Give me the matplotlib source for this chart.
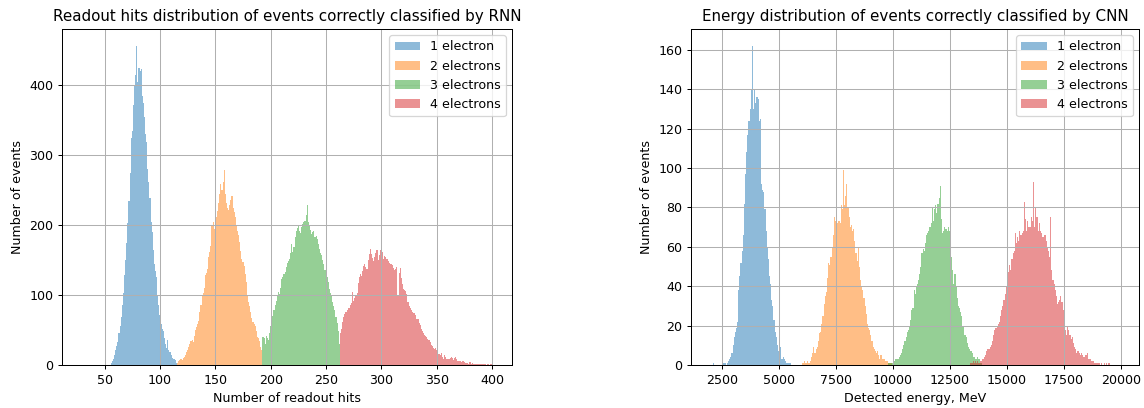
import matplotlib
matplotlib.use("Agg")
import matplotlib.pyplot as plt
import numpy as np

labels = ["1 electron", "2 electrons", "3 electrons", "4 electrons"]

# RNN panel: counts per readout-hit bin (width 1 hit), first bin centre below
rnn_first = [56, 116, 193, 263]
rnn_1e = [3, 5, 8, 14, 22, 27, 33, 45, 55, 68, 85, 103, 128, 150, 175,
          203, 235, 275, 325, 335, 372, 398, 415, 456, 405, 425, 420, 423, 385, 375,
          355, 330, 318, 280, 262, 238, 205, 190, 165, 145, 135, 125, 100, 85, 72,
          58, 52, 48, 38, 30, 24, 35, 22, 18, 14, 10, 9, 8, 7, 3]
rnn_2e = [3, 6, 7, 8, 7, 10, 12, 14, 18, 22, 26, 30, 34, 36, 33,
          42, 50, 54, 58, 63, 75, 86, 100, 103, 110, 128, 132, 137, 155, 162,
          170, 200, 205, 195, 198, 212, 220, 232, 245, 258, 250, 262, 278, 245, 232,
          225, 222, 228, 236, 242, 225, 218, 212, 200, 192, 186, 176, 163, 152, 147,
          142, 130, 118, 100, 90, 84, 76, 67, 62, 59, 55, 48, 40, 38, 34, 26, 22]
rnn_3e = [40, 38, 30, 42, 38, 36, 45, 55, 62, 70, 78, 85, 92, 100, 104,
          102, 110, 123, 126, 130, 133, 140, 146, 149, 152, 160, 173, 162, 168, 183,
          192, 196, 199, 192, 188, 197, 202, 205, 206, 215, 229, 204, 198, 193, 187,
          190, 192, 183, 184, 180, 173, 166, 160, 157, 150, 144, 136, 130, 125, 119,
          108, 103, 100, 90, 84, 78, 68, 60, 48, 30]
rnn_4e = [45, 52, 62, 68, 73, 76, 78, 81, 82, 86, 89, 104, 92, 96, 100,
          103, 117, 125, 130, 127, 134, 141, 145, 140, 137, 150, 158, 166, 158, 153,
          149, 155, 160, 164, 150, 157, 164, 171, 162, 152, 156, 155, 152, 148, 146,
          145, 144, 143, 138, 136, 137, 140, 100, 132, 138, 124, 115, 109, 107, 105,
          101, 90, 84, 81, 79, 76, 74, 74, 72, 66, 65, 60, 57, 52, 48,
          45, 43, 42, 40, 37, 35, 33, 29, 27, 24, 23, 24, 21, 18, 16,
          14, 17, 12, 9, 14, 11, 9, 9, 8, 10, 12, 10, 7, 10, 12,
          9, 6, 5, 5, 4, 6, 5, 4, 3, 3, 3, 2, 4, 2, 3,
          2, 2, 1, 2, 1, 2, 1, 1, 2, 1, 1, 2, 0, 1, 1, 0, 1, 1]

# CNN panel: counts per 50 MeV energy bin, left edge of first bin below
cnn_first = [2000, 6000, 9800, 13400]
cnn_1e = [0, 0, 1, 0, 0, 0, 0, 0, 0, 0,
          0, 1, 1, 0, 1, 2, 3, 4, 6, 10, 14, 17, 19, 22, 38,
          45, 52, 58, 66, 82, 97, 108, 117, 124, 130, 140, 162, 130, 140, 133,
          136, 135, 124, 125, 92, 89, 88, 79, 68, 60, 54, 45, 41, 33, 30,
          23, 17, 14, 10, 7, 10, 9, 3, 4, 3, 2, 1, 1, 1, 1]
cnn_2e = [1, 1, 2, 1, 2, 1, 1, 2, 4, 6, 9, 6, 8, 9, 12,
          16, 17, 21, 25, 31, 35, 37, 44, 52, 51, 55, 60, 66, 75, 73,
          74, 72, 73, 72, 81, 79, 99, 81, 86, 92, 80, 75, 70, 71, 68,
          69, 63, 57, 53, 60, 50, 43, 40, 38, 34, 30, 26, 21, 19, 18,
          15, 12, 9, 8, 7, 6, 7, 5, 3, 5, 3, 3, 3, 2, 2, 2, 1, 1, 1]
cnn_3e = [1, 1, 1, 1, 2, 2, 3, 3, 3, 4, 5, 6, 8, 10, 12,
          14, 17, 18, 20, 23, 28, 29, 38, 36, 40, 41, 43, 46, 50, 57,
          59, 58, 62, 66, 67, 68, 70, 72, 80, 73, 79, 81, 77, 82, 85,
          91, 74, 67, 68, 70, 69, 68, 70, 68, 72, 55, 48, 41, 46, 40,
          34, 30, 29, 27, 25, 20, 15, 15, 14, 11, 9, 8, 7, 6, 4,
          4, 3, 3, 4, 3, 1, 1]
cnn_4e = [1, 1, 2, 1, 2, 1, 2, 1, 2, 2, 3, 3, 4, 5, 7,
          8, 8, 9, 10, 12, 15, 18, 19, 20, 21, 22, 25, 28, 30, 33,
          36, 40, 43, 47, 51, 48, 54, 57, 58, 67, 62, 65, 63, 68, 66,
          67, 68, 83, 74, 68, 73, 70, 70, 75, 73, 93, 70, 80, 75, 68,
          72, 68, 67, 65, 65, 66, 63, 60, 58, 55, 75, 48, 43, 41, 38,
          35, 31, 32, 33, 35, 32, 28, 23, 18, 15, 20, 18, 15, 13, 14,
          11, 9, 8, 6, 7, 6, 5, 6, 5, 4, 4, 5, 6, 3, 3,
          3, 2, 2, 2, 1, 1, 1, 1, 1, 0, 1, 0, 1, 0, 1, 0, 1, 1]


def draw_hists(ax, first_edges, width, series):
    for first, counts, lab in zip(first_edges, series, labels):
        counts = np.asarray(counts, dtype=float)
        edges = first + width * np.arange(len(counts) + 1)
        centers = 0.5 * (edges[:-1] + edges[1:])
        ax.hist(centers, bins=edges, weights=counts, alpha=0.5, label=lab,
                histtype="stepfilled")


# original was drawn larger and scaled down, so render at a lower dpi
DPI = 91
fig = plt.figure(figsize=(1144 / DPI, 408 / DPI), dpi=DPI)
ax1 = fig.add_axes([0.0542, 0.1054, 0.3934, 0.8235])
ax2 = fig.add_axes([0.604, 0.1054, 0.3916, 0.8235])

draw_hists(ax1, [f - 0.5 for f in rnn_first], 1, [rnn_1e, rnn_2e, rnn_3e, rnn_4e])
ax1.set_xlim(11.5, 418)
ax1.set_ylim(0, 480)
ax1.set_title("Readout hits distribution of events correctly classified by RNN")
ax1.set_xlabel("Number of readout hits")
ax1.set_ylabel("Number of events")
ax1.grid(True)
ax1.legend(loc="upper right")

draw_hists(ax2, cnn_first, 50, [cnn_1e, cnn_2e, cnn_3e, cnn_4e])
ax2.set_xlim(1125, 20804)
ax2.set_ylim(0, 170.6)
ax2.set_title("Energy distribution of events correctly classified by CNN")
ax2.set_xlabel("Detected energy, MeV")
ax2.set_ylabel("Number of events")
ax2.grid(True)
ax2.legend(loc="upper right")

fig.savefig("out.png", dpi=DPI)
